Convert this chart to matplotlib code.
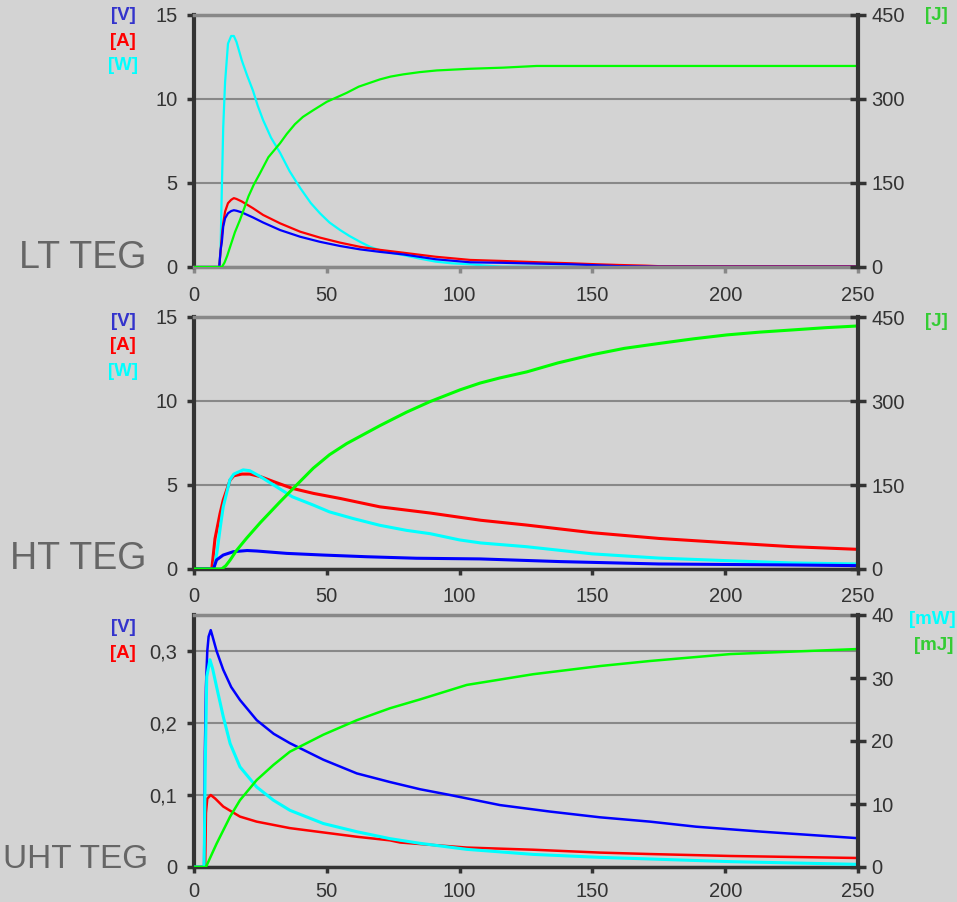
import matplotlib.pyplot as plt

plt.rcParams['font.family'] = ['Liberation Sans', 'DejaVu Sans']

# ---- LT TEG ----
lt_wt = [0, 9.5, 10, 10.5, 11, 11.7, 12.8, 14, 15, 16, 18, 20, 22.2, 24, 26, 29, 32.4, 36, 40, 44, 47.4,
         51, 55, 58.5, 62.5, 66.3, 70, 74, 78.8, 85, 91, 97, 104, 110, 116, 250]
lt_w = [0, 0, 1.0, 4.8, 8.3, 11.0, 13.3, 13.75, 13.75, 13.4, 12.3, 11.4, 10.5, 9.6, 8.75, 7.7, 6.8, 5.7, 4.7,
        3.8, 3.2, 2.65, 2.2, 1.85, 1.5, 1.2, 1.0, 0.85, 0.71, 0.5, 0.32, 0.22, 0.16, 0.08, 0.02, 0]
lt_t = [0, 9.5, 10, 10.5, 11, 11.7, 12.8, 14, 15, 16, 18, 22.2, 26, 32.4, 40, 47.4, 55, 62.5, 70,
        78.8, 91, 104, 116, 130, 142, 152, 160, 170, 175, 200, 250]
lt_a = [0, 0, 0.9, 1.9, 2.6, 3.3, 3.8, 4.0, 4.1, 4.05, 3.9, 3.5, 3.1, 2.6, 2.1, 1.75, 1.45, 1.2, 1.02,
        0.85, 0.61, 0.42, 0.36, 0.28, 0.22, 0.16, 0.12, 0.08, 0.05, 0.05, 0.05]
lt_v = [0, 0, 1.0, 1.5, 2.4, 2.9, 3.2, 3.33, 3.38, 3.35, 3.25, 2.95, 2.65, 2.2, 1.8, 1.5, 1.25, 1.05, 0.9,
        0.75, 0.46, 0.28, 0.25, 0.2, 0.16, 0.1, 0.05, 0.03, 0.02, 0.02, 0.02]
lt_jt = [0, 10.5, 11.5, 12.5, 13.6, 15.4, 17.3, 19, 20.5, 22.5, 24.8, 28, 32.4, 35, 38, 41, 44.9, 50,
         57.5, 62, 66.3, 70, 74, 78.8, 85, 91.4, 104, 116.5, 129, 180, 250]
lt_j = [0, 0, 8, 20, 36, 62, 84, 106, 126, 147, 167, 196, 221, 238, 255, 268, 280, 295,
        311, 322, 329, 335, 340, 344, 348, 351, 354, 356, 359, 359, 359]

# ---- HT TEG ----
ht_at = [0, 6.7, 7.9, 9.8, 11, 13.6, 15, 18, 21, 25, 30, 37, 45, 55, 70, 89, 100, 108, 125, 150,
         175, 200, 225, 250]
ht_a = [0, 0, 1.8, 3.3, 4.1, 5.3, 5.55, 5.65, 5.65, 5.5, 5.2, 4.8, 4.5, 4.2, 3.7, 3.33, 3.08, 2.9, 2.62, 2.16,
        1.82, 1.57, 1.33, 1.17]
ht_wt = [0, 7.5, 8.6, 10, 11, 13.5, 15, 18.5, 21, 25, 30, 37, 45, 51, 60, 70, 80, 89, 100, 108, 125,
         150, 175, 200, 225, 250]
ht_w = [0, 0, 0.95, 2.6, 3.7, 5.3, 5.65, 5.9, 5.85, 5.5, 5.0, 4.3, 3.8, 3.4, 3.0, 2.6, 2.3, 2.1, 1.73, 1.55, 1.33,
        0.9, 0.65, 0.5, 0.36, 0.3]
ht_vt = [0, 7.3, 8.5, 11, 14.8, 20, 23.7, 34.9, 48.7, 65, 83.8, 107.7, 138, 175, 225, 250]
ht_v = [0, 0, 0.54, 0.83, 1.03, 1.1, 1.07, 0.93, 0.83, 0.73, 0.64, 0.6, 0.44, 0.3, 0.24, 0.2]
ht_jt = [0, 10.4, 12, 13.6, 16, 19.8, 25, 32.4, 38, 44.9, 51, 57.5, 70, 80, 88.9, 100.2, 107.7, 115,
         125.3, 137, 150.3, 162, 175.5, 188, 200.6, 213, 225.6, 238, 250]
ht_j = [0, 0, 6, 16, 33, 55, 83, 120, 147, 180, 204, 224, 256, 280, 299, 320, 332, 341,
        352, 368, 383, 394, 403, 411, 418, 423, 427, 431, 434]

# ---- UHT TEG ----
uht_vt = [0, 3.8, 4.1, 4.5, 5, 5.5, 6.3, 7, 8.5, 11, 14, 17.3, 23.6, 30, 36.1, 48.7, 61.3, 73.8, 85.1,
          96.4, 115.2, 134, 152.9, 171.7, 189, 214, 250]
uht_v = [0, 0, 0.16, 0.25, 0.3, 0.32, 0.329, 0.32, 0.3, 0.274, 0.25, 0.232, 0.204, 0.185, 0.172, 0.149, 0.130,
         0.118, 0.108, 0.100, 0.086, 0.077, 0.069, 0.063, 0.056, 0.049, 0.040]
uht_at = [0, 4.2, 4.5, 5, 6.3, 8, 11, 17.3, 23.6, 36.1, 48.7, 61.3, 73.8, 77.6, 102.7, 127.7, 152.9,
          171.7, 202, 250]
uht_a = [0, 0, 0.075, 0.095, 0.1, 0.095, 0.084, 0.070, 0.063, 0.054, 0.048, 0.042, 0.037, 0.034, 0.027,
         0.024, 0.020, 0.018, 0.0153, 0.0125]
uht_wt = [0, 3.8, 4.2, 4.8, 6, 7, 8.5, 11, 13.6, 17.3, 23.6, 29.9, 36.1, 48.7, 61.3, 73.8, 85.1, 102.7,
          127.7, 152.9, 171.7, 202, 250]
uht_mw = [0, 0, 15, 30.2, 32.9, 31.5, 28.6, 23.9, 19.6, 15.9, 12.7, 10.6, 9.0, 6.9, 5.6, 4.5, 3.76, 2.8,
          2.0, 1.53, 1.27, 0.85, 0.42]
uht_jt = [0, 4.5, 8.5, 13.6, 17.3, 23.6, 29.9, 36.1, 48.7, 61.3, 73.8, 85.1, 102.7, 127.7, 152.9, 171.7,
          202, 250]
uht_mj = [0, 0, 3.7, 8.0, 10.6, 13.8, 16.2, 18.3, 21.0, 23.3, 25.2, 26.6, 28.9, 30.6, 31.9, 32.7, 33.8, 34.6]

x_ticks = [0, 50, 100, 150, 200, 250]

BG = '#d3d3d3'
DARK = '#333333'
GRAY = '#888888'
BLUE, RED, CYAN, GREEN = '#0000ff', '#ff0000', '#00ffff', '#00ff00'

W, H = 957, 902
fig = plt.figure(figsize=(W / 100, H / 100), dpi=100, facecolor=BG)


def px(x, y):
    return x / W, 1 - y / H


def make_panel(top, bottom, bottom_col, xpad=9):
    l, b = px(194, bottom)
    r, t = px(858, top)
    ax = fig.add_axes([l, b, r - l, t - b])
    ax.set_facecolor(BG)
    ax2 = ax.twinx()
    ax.set_xlim(0, 250)
    ax.set_xticks(x_ticks)
    ax.spines['left'].set_color(DARK)
    ax.spines['left'].set_linewidth(3)
    ax.spines['right'].set_visible(False)
    ax.spines['top'].set_color(GRAY)
    ax.spines['top'].set_linewidth(2.5)
    ax.spines['bottom'].set_color(bottom_col)
    ax.spines['bottom'].set_linewidth(2.5)
    for s in ['left', 'top', 'bottom']:
        ax2.spines[s].set_visible(False)
    ax2.spines['right'].set_color(DARK)
    ax2.spines['right'].set_linewidth(3)
    ax.tick_params(axis='y', direction='out', length=5, width=2.5, color=DARK,
                   labelsize=14.5, labelcolor=DARK, pad=7)
    ax.tick_params(axis='x', direction='out', length=4, width=2.5, color=bottom_col,
                   labelsize=14.5, labelcolor=DARK, pad=xpad)
    ax2.tick_params(axis='y', direction='inout', length=11, width=2.5, color=DARK,
                    labelsize=14.5, labelcolor=DARK, pad=4)
    ax.yaxis.grid(True, color=GRAY, lw=1.5)
    ax.set_axisbelow(True)
    return ax, ax2


def label(x, y, s, c, size=13.5, bold=True):
    fig.text(*px(x, y), s, color=c, fontsize=size, fontweight='bold' if bold else 'normal',
             ha='center', va='center')


# panel 1
ax, ax2 = make_panel(15, 267, GRAY, xpad=10)
ax.set_ylim(0, 15)
ax.set_yticks([0, 5, 10, 15])
ax2.set_ylim(0, 450)
ax2.set_yticks([0, 150, 300, 450])
ax.plot(lt_wt, lt_w, color=CYAN, lw=1.6)
ax.plot(lt_t, lt_a, color=RED, lw=1.6)
ax.plot(lt_t, lt_v, color=BLUE, lw=1.6)
ax2.plot(lt_jt, lt_j, color=GREEN, lw=1.6)
label(123, 16, '[V]', '#3333cc')
label(123, 41, '[A]', RED)
label(123, 66, '[W]', CYAN)
label(936, 16, '[J]', '#33cc33')
fig.text(*px(146, 268), 'LT TEG', color='#666666', fontsize=27, ha='right', va='baseline')

# panel 2
ax, ax2 = make_panel(317, 569, DARK)
ax.set_ylim(0, 15)
ax.set_yticks([0, 5, 10, 15])
ax2.set_ylim(0, 450)
ax2.set_yticks([0, 150, 300, 450])
ax.plot(ht_at, ht_a, color=RED, lw=2.2)
ax.plot(ht_wt, ht_w, color=CYAN, lw=2.2)
ax.plot(ht_vt, ht_v, color=BLUE, lw=2.2)
ax2.plot(ht_jt, ht_j, color=GREEN, lw=2.2)
label(123, 321, '[V]', '#3333cc')
label(123, 346, '[A]', RED)
label(123, 371, '[W]', CYAN)
label(936, 321, '[J]', '#33cc33')
fig.text(*px(146, 569), 'HT TEG', color='#666666', fontsize=27, ha='right', va='baseline')

# panel 3
ax, ax2 = make_panel(615, 867, DARK, xpad=7)
ax.set_ylim(0, 0.35)
ax.set_yticks([0, 0.1, 0.2, 0.3])
ax.set_yticklabels(['0', '0,1', '0,2', '0,3'])
ax2.set_ylim(0, 40)
ax2.set_yticks([0, 10, 20, 30, 40])
ax.plot(uht_vt, uht_v, color=BLUE, lw=1.8)
ax.plot(uht_at, uht_a, color=RED, lw=1.8)
ax2.plot(uht_wt, uht_mw, color=CYAN, lw=2.2)
ax2.plot(uht_jt, uht_mj, color=GREEN, lw=1.8)
label(123, 627, '[V]', '#3333cc')
label(123, 653, '[A]', RED)
label(932, 619, '[mW]', CYAN)
label(934, 645, '[mJ]', '#33cc33')
fig.text(*px(3, 868), 'UHT TEG', color='#666666', fontsize=24, ha='left', va='baseline')

fig.savefig('out.png', dpi=100, facecolor=BG)
